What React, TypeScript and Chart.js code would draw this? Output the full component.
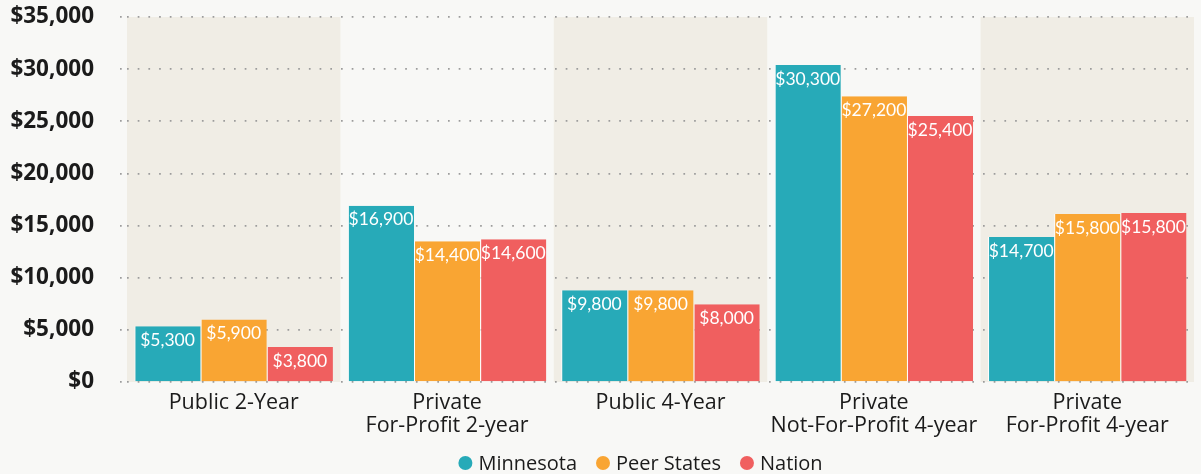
import React, { useEffect, useRef } from "react";
import { Chart, registerables } from "chart.js";

Chart.register(...registerables);

const categories: string[][] = [
  ["Public 2-Year"],
  ["Private", "For-Profit 2-year"],
  ["Public 4-Year"],
  ["Private", "Not-For-Profit 4-year"],
  ["Private", "For-Profit 4-year"],
];

const seriesNames = ["Minnesota", "Peer States", "Nation"];

// bar heights as drawn
const minnesota = [5350, 16900, 8800, 30400, 13900];
const peerStates = [6000, 13500, 8800, 27400, 16100];
const nation = [3350, 13700, 7450, 25500, 16200];

// value labels as printed
const minnesotaLabels = ["$5,300", "$16,900", "$9,800", "$30,300", "$14,700"];
const peerStatesLabels = ["$5,900", "$14,400", "$9,800", "$27,200", "$15,800"];
const nationLabels = ["$3,800", "$14,600", "$8,000", "$25,400", "$15,800"];

const yTicks = [0, 5000, 10000, 15000, 20000, 25000, 30000, 35000];

const COLORS = {
  minnesota: "#27aab8",
  peer: "#f9a533",
  nation: "#f05f5f",
  page: "#f8f8f6",
  band: "#f0ede5",
  text: "#1b1b1b",
  grid: "#9c9c9c",
};

const FONT = "'Open Sans', Lato, sans-serif";
const VALUE_FONT = "Lato, 'Open Sans', sans-serif";

const bandsPlugin = {
  id: "bands",
  beforeDraw(chart: any) {
    const { ctx, chartArea, scales } = chart;
    ctx.save();
    ctx.fillStyle = COLORS.page;
    ctx.fillRect(0, 0, chart.width, chart.height);
    const x = scales.x;
    const w = chartArea.width / categories.length;
    ctx.fillStyle = COLORS.band;
    for (let i = 0; i < categories.length; i += 2) {
      const cx = x.getPixelForValue(i);
      ctx.fillRect(cx - w / 2, chartArea.top, w, chartArea.bottom - chartArea.top);
    }
    ctx.restore();
  },
};

const valueLabelsPlugin = {
  id: "valueLabels",
  afterDatasetsDraw(chart: any) {
    const { ctx } = chart;
    const labelSets = [minnesotaLabels, peerStatesLabels, nationLabels];
    ctx.save();
    ctx.fillStyle = "#ffffff";
    ctx.font = `17.5px ${VALUE_FONT}`;
    ctx.textAlign = "center";
    ctx.textBaseline = "middle";
    chart.data.datasets.forEach((_ds: any, di: number) => {
      const meta = chart.getDatasetMeta(di);
      meta.data.forEach((el: any, i: number) => {
        ctx.fillText(labelSets[di][i], el.x, el.y + 14);
      });
    });
    ctx.restore();
  },
};

// legend drawn from the datasets, centred a little right of the canvas centre
const legendPlugin = {
  id: "customLegend",
  afterDraw(chart: any) {
    const { ctx } = chart;
    const ds = chart.data.datasets;
    ctx.save();
    ctx.font = `20px ${FONT}`;
    ctx.textBaseline = "middle";
    ctx.textAlign = "left";
    const r = 7;
    const toText = 13;
    const toNext = 19;
    const widths = ds.map((d: any) => ctx.measureText(d.label).width);
    let total = 0;
    widths.forEach((w: number, i: number) => {
      total += r + toText + w;
      if (i < widths.length - 1) total += toNext;
    });
    const cx = chart.width / 2 + 40;
    const cy = chart.height - 11;
    let x = cx - total / 2;
    ds.forEach((d: any, i: number) => {
      ctx.fillStyle = d.backgroundColor;
      ctx.beginPath();
      ctx.arc(x + r, cy, r, 0, Math.PI * 2);
      ctx.fill();
      ctx.fillStyle = COLORS.text;
      ctx.fillText(d.label, x + r + toText, cy + 1);
      x += r + toText + widths[i] + toNext;
    });
    ctx.restore();
  },
};

export default function App() {
  const canvasRef = useRef<HTMLCanvasElement | null>(null);

  useEffect(() => {
    if (!canvasRef.current) return;
    const chart = new Chart(canvasRef.current, {
      type: "bar",
      data: {
        labels: categories,
        datasets: [
          { label: seriesNames[0], data: minnesota, backgroundColor: COLORS.minnesota },
          { label: seriesNames[1], data: peerStates, backgroundColor: COLORS.peer },
          { label: seriesNames[2], data: nation, backgroundColor: COLORS.nation },
        ],
      },
      options: {
        animation: false,
        responsive: true,
        maintainAspectRatio: false,
        layout: { padding: { top: 17, right: 7, left: 0, bottom: 30 } },
        datasets: {
          bar: {
            categoryPercentage: 0.93,
            barPercentage: 1.0,
            borderColor: "#ffffff",
            borderWidth: { left: 1, right: 0, top: 0, bottom: 0 },
            borderSkipped: false,
          },
        },
        scales: {
          x: {
            grid: { display: false, drawTicks: false },
            border: { display: false },
            ticks: {
              color: COLORS.text,
              font: { family: FONT, size: 21.5, lineHeight: 1.08 },
              padding: 9,
              maxRotation: 0,
              autoSkip: false,
            },
            afterFit(scale: any) {
              scale.height = 62;
            },
          },
          y: {
            min: 0,
            max: 35000,
            afterBuildTicks(scale: any) {
              scale.ticks = yTicks.map((v) => ({ value: v }));
            },
            afterFit(scale: any) {
              scale.width = 127;
              scale.paddingTop = 0;
              scale.paddingBottom = 0;
            },
            grid: {
              color: COLORS.grid,
              lineWidth: 1.7,
              tickLength: 7,
              tickColor: COLORS.grid,
              tickWidth: 1.7,
              tickBorderDash: [1.7, 9],
            },
            border: { display: false, dash: [1.7, 9] },
            ticks: {
              color: COLORS.text,
              font: { family: FONT, size: 22.5, weight: "bold" },
              padding: 26,
              callback: (v: any) => "$" + Number(v).toLocaleString("en-US"),
            },
          },
        },
        plugins: {
          legend: { display: false },
          tooltip: { enabled: false },
        },
      },
      plugins: [bandsPlugin, valueLabelsPlugin, legendPlugin],
    } as any);
    return () => chart.destroy();
  }, []);

  return (
    <div style={{ position: "fixed", left: 0, top: 0, width: 1201, height: 474, background: COLORS.page }}>
      <canvas ref={canvasRef} />
    </div>
  );
}
